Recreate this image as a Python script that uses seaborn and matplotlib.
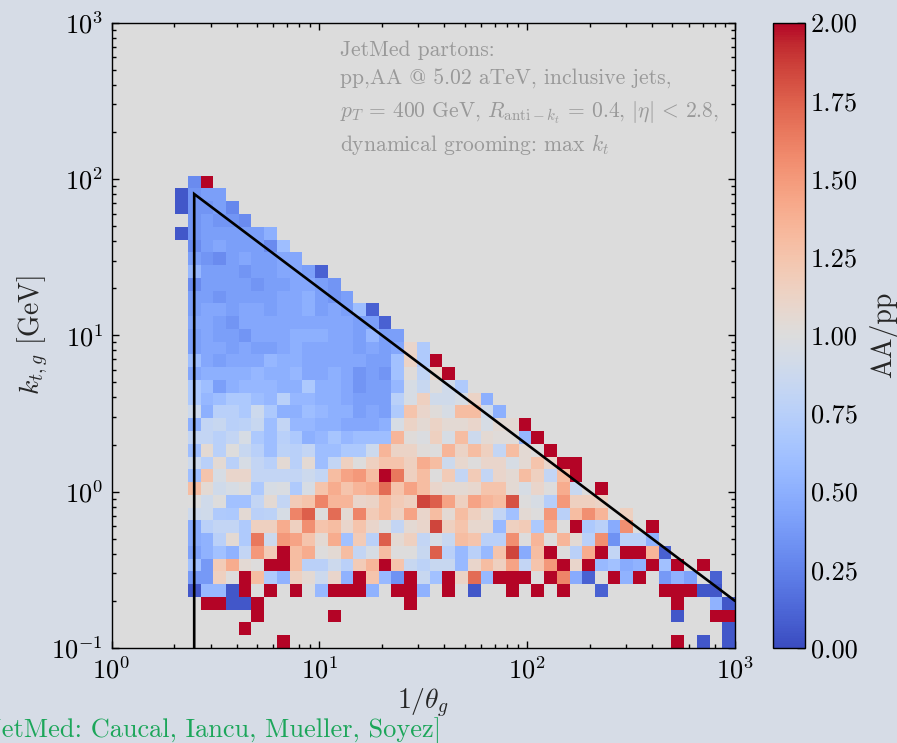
import numpy as np
import pandas as pd
import matplotlib
matplotlib.use("Agg")
import matplotlib.pyplot as plt
import seaborn as sns

# ---------------------------------------------------------------------------
# Binning of the primary Lund plane: 49 logarithmic bins on each axis
# ---------------------------------------------------------------------------
n_bins = 49
inv_theta_range = (1.0, 1000.0)
kt_range = (0.1, 1000.0)

# Jet definition used for the kinematic boundary
jet_pt = 400.0      # GeV
jet_radius = 0.4

# AA/pp ratio per kt bin (row index from the bottom).
# Each entry: (index of the first 1/theta bin, ratios for consecutive bins);
# None marks an empty bin.
ratio_rows = {
    36: (6, [0.3, 2.0]),
    35: (5, [0.05, 0.35, 0.4, 0.4]),
    34: (5, [0.05, 0.35, 0.35, 0.4, 0.28]),
    33: (6, [0.35, 0.4, 0.35, 0.35, 0.3]),
    32: (5, [0.05, 0.35, 0.4, 0.4, 0.4, 0.4, 0.4, 0.5]),
    31: (6, [0.3, 0.4, 0.45, 0.4, 0.4, 0.4, 0.3, 0.6]),
    30: (6, [0.4, 0.35, 0.3, 0.4, 0.45, 0.4, 0.4, 0.45, 0.45]),
    29: (6, [0.55, 0.4, 0.4, 0.4, 0.35, 0.4, 0.4, 0.45, 0.45, 0.4, 0.1]),
    28: (6, [0.3, 0.4, 0.4, 0.4, 0.4, 0.35, 0.4, 0.4, 0.45, 0.45, 0.4, 0.35]),
    27: (6, [0.4, 0.4, 0.35, 0.4, 0.4, 0.4, 0.4, 0.45, 0.45, 0.5, 0.4, 0.35, 0.4]),
    26: (6, [0.4, 0.45, 0.45, 0.4, 0.45, 0.45, 0.4, 0.45, 0.45, 0.5, 0.4, 0.45,
             0.4, 0.6, 0.1]),
    25: (6, [0.45, 0.45, 0.4, 0.35, 0.45, 0.45, 0.45, 0.45, 0.45, 0.45, 0.45,
             0.45, 0.45, 0.4, 0.4, 0.1]),
    24: (6, [0.4, 0.45, 0.4, 0.4, 0.35, 0.45, 0.45, 0.45, 0.5, 0.5, 0.5, 0.45,
             0.45, 0.4, 0.55, 0.4, 0.4]),
    23: (6, [0.4, 0.45, 0.45, 0.4, 0.45, 0.4, 0.4, 0.45, 0.5, 0.45, 0.45, 0.45,
             0.45, 0.4, 0.45, 0.4, 0.45, 1.1, 0.7]),
    22: (6, [0.6, 0.45, 0.4, 0.45, 0.45, 0.45, 0.55, 0.5, 0.5, 0.45, 0.45, 0.45,
             0.45, 0.45, 0.4, 0.4, 0.62, 1.12, 0.7, 2.0]),
    21: (6, [0.45, 0.5, 0.5, 0.5, 0.5, 0.55, 0.5, 0.5, 0.55, 0.45, 0.45, 0.5,
             0.45, 0.35, 0.4, 0.35, 0.62, 1.02, 0.8, 1.1, 2.0]),
    20: (6, [0.68, 0.6, 0.4, 0.5, 0.55, 0.55, 0.55, 0.5, 0.5, 0.68, 0.5, 0.5,
             0.45, 0.35, 0.4, 0.4, 0.55, 0.95, 0.85, 1.0, 0.9, 0.7]),
    19: (6, [0.68, 0.55, 0.6, 0.68, 0.68, 0.6, 0.55, 0.75, 0.55, 0.55, 0.5, 0.5,
             0.45, 0.4, 0.4, 0.4, 0.75, 0.95, 1.15, 0.9, 0.9, 0.95, 1.12, 0.5]),
    18: (6, [0.88, 0.5, 0.75, 0.75, 0.68, 0.88, 0.68, 0.5, 0.5, 0.6, 0.55, 0.5,
             0.5, 0.4, 0.45, 0.4, 0.7, 1.25, 1.1, 1.02, 0.95, 1.3, 1.3, 0.9,
             0.5]),
    17: (6, [0.5, 0.82, 0.85, 0.75, 0.78, 0.85, 0.6, 0.82, 0.55, 0.55, 0.5, 0.5,
             0.45, 0.45, 0.45, 0.5, 0.95, 1.12, 1.05, 1.12, 1.05, 1.05, 1.1,
             0.95, 1.05, 1.05, 2.0]),
    16: (6, [0.82, 0.82, 0.75, 0.82, 0.95, 0.68, 0.6, 0.75, 0.68, 0.5, 0.55,
             0.65, 0.55, 0.6, 0.6, 0.6, 1.35, 1.02, 0.98, 1.15, 0.95, 1.3, 0.88,
             1.05, 1.02, 1.02, 0.55, 2.0]),
    15: (6, [0.6, 1.05, 0.75, 1.0, 0.85, 0.75, 0.6, 0.78, 0.75, 0.82, 0.6, 0.6,
             0.68, 0.68, 0.88, 1.35, 1.12, 1.12, 1.02, 1.0, 1.35, 1.12, 1.3,
             1.15, 0.82, 1.3, 1.05, 1.0, 2.0]),
    14: (6, [0.88, 0.75, 1.05, 0.75, 0.95, 0.82, 0.75, 1.05, 0.75, 1.05, 0.6,
             0.82, 1.15, 1.0, 1.15, 1.25, 1.25, 1.15, 1.4, 1.3, 0.88, 1.08, 1.0,
             1.1, 1.1, 0.95, 1.05, 1.25, 1.1, 2.0, 2.0]),
    13: (6, [0.6, 1.25, 0.95, 1.1, 1.1, 0.82, 0.82, 0.82, 0.82, 0.88, 0.82, 1.3,
             1.45, 1.5, 1.3, 2.0, 1.65, 1.15, 1.3, 1.0, 1.2, 0.82, 1.2, 0.82,
             1.1, 1.05, 1.3, 1.15, 0.82, 1.3, 2.0]),
    12: (6, [1.3, 1.05, 0.9, 0.95, 1.0, 0.68, 0.95, 0.97, 0.7, 0.95, 1.25, 1.4,
             1.25, 1.35, 1.4, 1.7, 1.25, 1.45, 1.3, 1.1, 1.05, 1.05, 1.08, 1.25,
             1.25, 1.05, 0.95, 1.1, 1.0, 1.4, 0.85, None, 2.0]),
    11: (6, [1.0, 0.9, 1.0, 0.62, 0.62, 0.82, 1.05, 0.82, 1.2, 1.25, 1.6, 1.35,
             1.35, 1.1, 1.12, 1.3, 1.2, 1.15, 1.85, 1.75, 1.45, 1.15, 1.45, 1.35,
             1.3, 1.8, 1.0, 0.95, 0.74, 1.5, 1.15, 1.15, 1.12]),
    10: (6, [0.88, 0.9, 0.7, 0.68, 1.05, 0.76, 0.78, 0.95, 1.6, 1.75, 1.0, 1.7,
             1.05, 1.6, 1.2, 1.3, 1.15, 1.45, 1.1, 1.3, 1.05, 1.3, 1.15, 1.05,
             0.82, 0.62, 1.05, 1.0, 1.5, 0.76, 1.3, 1.55, 1.35, None, 1.15]),
    9: (6, [0.47, 0.76, 0.82, 0.82, 0.7, 1.15, 1.15, 1.4, 1.15, 1.55, 1.25, 1.3,
            1.1, 1.25, 1.1, 1.0, 0.82, 1.05, 1.1, 1.85, 1.15, 1.25, 1.08, 1.08,
            0.57, 1.15, 1.2, 0.68, 1.42, 1.0, 2.0, 0.68, 0.76, 0.47, 1.55, None,
            2.0]),
    8: (6, [0.47, 0.52, 0.76, 1.05, 0.7, 1.65, 0.88, 1.5, 1.45, 1.25, 1.05, 1.4,
            0.62, 1.2, 0.76, 1.75, 1.05, 1.15, 0.82, 0.95, 0.85, 1.3, 1.25, 0.76,
            0.76, 1.55, 1.0, 1.35, 1.0, 1.35, 1.05, 0.76, 1.55, 0.33, 0.76, 0.76,
            0.52]),
    7: (6, [0.42, 0.52, 0.62, 0.52, 0.82, 1.5, 1.2, 2.0, 1.3, 1.4, 1.0, 1.05,
            1.3, 0.82, 0.95, 1.3, 1.0, 1.0, 0.85, 1.75, 0.76, 0.57, 0.76, 0.57,
            1.25, 1.85, 0.47, 1.3, 2.0, 1.0, 0.76, 1.4, 2.0, 0.82, 2.0, 2.0, 1.35,
            0.1]),
    6: (6, [0.62, 0.37, 1.2, 1.4, 1.05, 1.0, 2.0, 2.0, 1.3, 0.76, 0.76, 0.88,
            0.76, 1.2, 1.35, 2.0, 1.25, 0.85, 0.78, 0.85, 0.85, 0.57, 1.1, 1.3,
            1.15, 1.45, 0.82, 1.25, 1.5, 2.0, 1.1, 2.0, 0.57, 0.62, 0.47, 0.52,
            2.0, 0.62, 2.0, None, 2.0]),
    5: (6, [0.37, 0.37, 1.15, 1.0, 2.0, 1.3, 0.7, 0.52, 1.15, 1.05, 0.88, 1.1,
            0.52, 2.0, 1.25, 0.57, 0.33, 2.0, 0.85, 0.62, 2.0, 1.12, 1.7, 0.57,
            2.0, 2.0, 2.0, 1.0, 2.0, 1.6, 0.47, 0.1, None, 2.0, 0.52, 2.0, None,
            0.37, 0.52, 0.42, None, 0.1]),
    4: (6, [0.05, 0.57, 0.57, 0.05, 2.0, None, 2.0, None, 2.0, None, 0.57, 2.0,
            2.0, 2.0, 0.52, None, 2.0, 2.0, 0.52, None, 2.0, None, 0.05, None,
            None, 2.0, None, 2.0, None, 2.0, None, None, 0.1, None, None, None,
            None, 2.0, 2.0, 2.0, 0.05, 0.05]),
    3: (7, [2.0, 2.0, 0.05, 0.05, 2.0] + [None] * 11 + [2.0] + [None] * 20
        + [2.0, None, None, 0.52, 0.05]),
    2: (11, [2.0] + [None] * 5 + [2.0] + [None] * 26 + [0.05, None, None, 2.0,
                                                     2.0]),
    1: (10, [2.0] + [None] * 37 + [0.05]),
    0: (13, [2.0] + [None] * 30 + [2.0, None, 0.05, None, 0.05]),
}

colorbar_ticks = [0.00, 0.25, 0.50, 0.75, 1.00, 1.25, 1.50, 1.75, 2.00]

info_lines = [
    "JetMed partons:",
    "pp,AA @ 5.02 aTeV, inclusive jets,",
    r"$p_T\,=\,400$ GeV, $R_{\mathrm{anti}-k_t}\,=\,0.4$, $|\eta|\,<\,2.8$,",
    r"dynamical grooming: max $k_t$",
]
credit = "[JetMed: Caucal, Iancu, Mueller, Soyez]"

# ---------------------------------------------------------------------------
# Bin centres -> long table for seaborn
# ---------------------------------------------------------------------------
x_edges = np.linspace(np.log10(inv_theta_range[0]), np.log10(inv_theta_range[1]), n_bins + 1)
y_edges = np.linspace(np.log10(kt_range[0]), np.log10(kt_range[1]), n_bins + 1)
x_mid = 0.5 * (x_edges[1:] + x_edges[:-1])
y_mid = 0.5 * (y_edges[1:] + y_edges[:-1])

records = []
for j, (i0, values) in ratio_rows.items():
    for k, r in enumerate(values):
        if r is None:
            continue
        records.append({"inv_theta": 10 ** x_mid[i0 + k],
                        "kt": 10 ** y_mid[j],
                        "ratio": r})
lund = pd.DataFrame(records)

# ---------------------------------------------------------------------------
# Style
# ---------------------------------------------------------------------------
sns.set_theme(style="ticks", rc={
    "figure.facecolor": "#d6dce6",
    "axes.facecolor": "#dcdcdc",
    "axes.edgecolor": "black",
    "axes.linewidth": 1.0,
})
plt.rcParams["font.family"] = ["serif"]
plt.rcParams["font.serif"] = ["cmr10", "DejaVu Serif"]
plt.rcParams["mathtext.fontset"] = "cm"
plt.rcParams["axes.formatter.use_mathtext"] = True
plt.rcParams["axes.unicode_minus"] = True

W, H = 897, 743
fig = plt.figure(figsize=(W / 100, H / 100), dpi=100)
ax_l, ax_r, ax_t, ax_b = 111.5, 735.0, 22.5, 648.0
ax = fig.add_axes([ax_l / W, 1 - ax_b / H, (ax_r - ax_l) / W, (ax_b - ax_t) / H])
cax = fig.add_axes([773 / W, 1 - ax_b / H, 32 / W, (ax_b - ax_t) / H])

sns.histplot(
    data=lund, x="inv_theta", y="kt", weights="ratio",
    bins=[x_edges, y_edges], log_scale=True,
    cmap="coolwarm", vmin=0.0, vmax=2.0, thresh=0.01,
    cbar=True, cbar_ax=cax, ax=ax, linewidth=0,
)

# Kinematic boundary: theta = R and kt = z pT theta with z = 1/2
inv_r = 1.0 / jet_radius
ax.plot([inv_r, inv_r, inv_theta_range[1]],
        [kt_range[0], 0.5 * jet_pt * jet_radius, 0.5 * jet_pt / inv_theta_range[1]],
        color="black", lw=1.9, solid_joinstyle="miter")

ax.set_xlim(*inv_theta_range)
ax.set_ylim(*kt_range)
ax.set_xlabel(r"$1/\theta_g$", fontsize=20)
ax.set_ylabel(r"$k_{t,g}$ [GeV]", fontsize=20)
ax.xaxis.set_label_coords(0.5, -0.062)
ax.yaxis.set_label_coords(-0.099, 0.5)

ax.tick_params(which="both", direction="in", top=True, right=True,
               labelsize=19, width=1.0, colors="black")
ax.tick_params(which="major", length=5, pad=6)
ax.tick_params(which="minor", length=3)
for s in ax.spines.values():
    s.set_linewidth(1.0)

# Annotation block
ann_x = (340 - ax_l) / (ax_r - ax_l)
for line, y_px in zip(info_lines, [56, 85, 118, 151]):
    ax.text(ann_x, (ax_b - y_px) / (ax_b - ax_t), line, transform=ax.transAxes,
            fontsize=15.5, color="#999999", ha="left", va="baseline")

# Colour bar
cax.set_yticks(colorbar_ticks)
cax.set_yticklabels([f"{t:.2f}" for t in colorbar_ticks])
cax.tick_params(direction="in", length=6, width=1.0, labelsize=19, right=True,
                left=False, colors="black", pad=4)
cax.minorticks_off()
cax.set_ylabel("AA/pp", fontsize=20, labelpad=8)
for s in cax.spines.values():
    s.set_linewidth(1.0)
    s.set_edgecolor("black")

fig.text(441 / W, 6 / H, credit, color="#1ca65a", fontsize=19,
         ha="right", va="baseline")

fig.savefig("out.png", dpi=100, facecolor=fig.get_facecolor())
